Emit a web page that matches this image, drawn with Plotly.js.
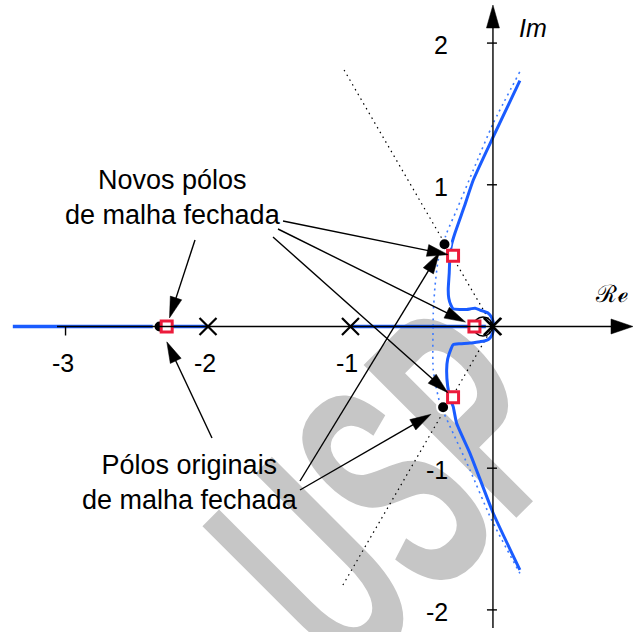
<!DOCTYPE html>
<html>
<head>
<meta charset="utf-8">
<script src="https://cdn.plot.ly/plotly-3.0.1.min.js"></script>
<style>
  html, body { margin: 0; padding: 0; background: #fff; }
  #plot { width: 634px; height: 632px; }
</style>
</head>
<body>
<div id="plot"></div>
<script>
// ---- Open-loop poles (x) and compensator zero (o) ----
const openLoopPolesRe = [0, -0.005, -1, -2];
const openLoopPolesIm = [0, 0, 0, 0];
const compZeroRe = [-0.07];
const compZeroIm = [0];

// ---- Closed-loop poles of the original system (filled dots) ----
const origPolesRe = [-0.34, -0.35, -2.34];
const origPolesIm = [0.58, -0.57, 0];

// ---- Closed-loop poles after compensation (squares) ----
const newPolesRe = [-0.28, -0.13, -0.28, -2.29];
const newPolesIm = [0.50, 0, -0.50, 0];

// ---- Compensated root locus: complex branches ----
const compUpperRe = [0.000, 0.002, -0.010, -0.035, -0.091, -0.125, -0.150, -0.185, -0.280, -0.295, -0.310, -0.314, -0.307, -0.302, -0.290, -0.267, -0.200, -0.138, 0.002, 0.189];
const compUpperIm = [0.000, 0.030, 0.065, 0.095, 0.116, 0.128, 0.126, 0.120, 0.125, 0.150, 0.200, 0.260, 0.375, 0.500, 0.580, 0.658, 0.850, 1.034, 1.339, 1.735];
const compLowerRe = [0.000, 0.002, -0.010, -0.030, -0.060, -0.091, -0.161, -0.230, -0.279, -0.295, -0.318, -0.325, -0.318, -0.300, -0.279, -0.255, -0.161, 0.002, 0.189];
const compLowerIm = [0.000, -0.030, -0.065, -0.090, -0.102, -0.107, -0.117, -0.122, -0.128, -0.160, -0.230, -0.307, -0.420, -0.510, -0.566, -0.683, -0.895, -1.318, -1.718];

// ---- Compensated root locus: real-axis pieces ----
const realLocusLeft = [-3.37, -2.0];
const realLocusMid = [-1.0, -0.05];

// ---- Uncompensated root locus (dotted) ----
const origUpperRe = [-0.420, -0.419, -0.407, -0.384, -0.325, -0.255, -0.138, 0.002, 0.189];
const origUpperIm = [0.000, 0.093, 0.281, 0.469, 0.658, 0.822, 1.104, 1.434, 1.798];
const origLowerRe = [-0.420, -0.419, -0.372, -0.279, -0.161, -0.009, 0.189];
const origLowerIm = [0.000, -0.307, -0.542, -0.754, -1.013, -1.366, -1.742];

// ---- Constant damping-ratio lines ----
const zeta = 0.5;
const zetaLineLength = [2.09, 2.12];   // upper, lower

// ---- Tick labels ----
const xTickVals = [-3, -2, -1];
const xTickText = ['-3', '-2', '-1'];
const yTickVals = [2, 1, -1, -2];
const yTickText = ['2', '1', '-1', '-2'];

// ================= drawing =================
const W = 634, H = 632;
const XR = [-3.46, 0.99], YR = [-2.156, 2.304];
const sx = W / (XR[1] - XR[0]), sy = H / (YR[1] - YR[0]);
const toX = px => XR[0] + px / sx;
const toY = py => YR[1] - py / sy;
const pxOf = (re, im) => [(re - XR[0]) * sx, (YR[1] - im) * sy];

const BLUE = '#1a5cff';
const BLUE_DOT = '#3d7bff';
const RED = '#ec1b3b';
const FONT = 'Liberation Sans';
const WM_GRAY = '#c6c6c6';

const shapes = [];
const annotations = [];

// watermark (moved under the traces after drawing)
annotations.push({
  text: 'USP', xref: 'x', yref: 'y', x: toX(390), y: toY(490),
  showarrow: false, textangle: -45,
  font: { family: FONT, size: 314, color: WM_GRAY, weight: 'bold' }
});

// arrow: shaft as a line, head as a filled path in pixel units at the tip
function arrowPx(tail, tip, len, half, width) {
  let dx = tip[0] - tail[0], dy = tip[1] - tail[1];
  const d = Math.hypot(dx, dy); dx /= d; dy /= d;
  const bx = tip[0] - dx * (len - 2), by = tip[1] - dy * (len - 2);
  shapes.push({ type: 'line', xref: 'x', yref: 'y',
    x0: toX(tail[0]), y0: toY(tail[1]), x1: toX(bx), y1: toY(by),
    line: { color: '#000', width: width } });
  const nx = -dy, ny = dx;
  const p1 = [-dx * len + nx * half, -dy * len + ny * half];
  const p2 = [-dx * len - nx * half, -dy * len - ny * half];
  const f = v => v.toFixed(2);
  shapes.push({ type: 'path', xref: 'x', yref: 'y', xsizemode: 'pixel', ysizemode: 'pixel',
    xanchor: toX(tip[0]), yanchor: toY(tip[1]),
    path: `M0,0L${f(p1[0])},${f(-p1[1])}L${f(p2[0])},${f(-p2[1])}Z`,
    fillcolor: '#000', line: { color: '#000', width: 0.5 } });
}
function arrowTo(tail, re, im, gap) {
  const c = pxOf(re, im);
  let dx = c[0] - tail[0], dy = c[1] - tail[1];
  const d = Math.hypot(dx, dy);
  arrowPx(tail, [c[0] - dx / d * gap, c[1] - dy / d * gap], 21, 6, 1.4);
}

// axes with arrow heads
arrowPx([57, pxOf(0, 0)[1]], [633, pxOf(0, 0)[1]], 22, 7.5, 1.4);
arrowPx([pxOf(0, 0)[0], 628], [pxOf(0, 0)[0], 5], 23, 6.5, 1.4);

// tick marks
xTickVals.forEach(v => {
  if (openLoopPolesRe.some(p => Math.abs(p - v) < 0.05)) return;
  shapes.push({ type: 'line', xref: 'x', yref: 'y', ysizemode: 'pixel', yanchor: 0,
    x0: v, x1: v, y0: 0, y1: -9, line: { color: '#000', width: 1.4 } });
});
yTickVals.forEach(v => {
  shapes.push({ type: 'line', xref: 'x', yref: 'y', xsizemode: 'pixel', xanchor: 0,
    x0: -6, x1: 4, y0: v, y1: v, line: { color: '#000', width: 1.4 } });
});

// tick labels
xTickVals.forEach((v, i) => annotations.push({
  text: xTickText[i], x: v, y: 0, xref: 'x', yref: 'y', showarrow: false,
  xanchor: 'center', yanchor: 'middle', xshift: -3, yshift: -37,
  font: { family: FONT, size: 25, color: '#000' }
}));
yTickVals.forEach((v, i) => annotations.push({
  text: yTickText[i], x: 0, y: v, xref: 'x', yref: 'y', showarrow: false,
  xanchor: 'right', yanchor: 'middle', xshift: -43, yshift: -2,
  font: { family: FONT, size: 25, color: '#000' }
}));

// axis names
annotations.push({ text: '<i>Im</i>', x: toX(533), y: toY(28), xref: 'x', yref: 'y', showarrow: false,
  font: { family: FONT, size: 25, color: '#000' } });
annotations.push({ text: 'ℛℯ', x: toX(611), y: toY(294), xref: 'x', yref: 'y', showarrow: false,
  font: { family: 'serif', size: 24, color: '#000' } });

// callout texts
annotations.push({ text: 'Novos pólos<br>de malha fechada', x: toX(173), y: toY(197), xref: 'x', yref: 'y',
  showarrow: false, align: 'center', font: { family: FONT, size: 27, color: '#000' } });
annotations.push({ text: 'Pólos originais<br>de malha fechada', x: toX(190), y: toY(482), xref: 'x', yref: 'y',
  showarrow: false, align: 'center', font: { family: FONT, size: 27, color: '#000' } });

// callout arrows -> new poles
arrowTo([283, 221], newPolesRe[0], newPolesIm[0], 5);
arrowTo([278, 229], newPolesRe[1], newPolesIm[1], 10);
arrowTo([273, 237], newPolesRe[2], newPolesIm[2], 7);
arrowTo([195, 240], newPolesRe[3], newPolesIm[3], 9);
// callout arrows -> original poles
arrowTo([212, 438], origPolesRe[2], origPolesIm[2], 17);
arrowTo([300, 481], origPolesRe[0], origPolesIm[0], 10);
arrowTo([300, 490], origPolesRe[1], origPolesIm[1], 14);

// ---- traces ----
const traces = [];
// damping-ratio lines
const theta = Math.acos(zeta);
traces.push({ x: [-zetaLineLength[0] * Math.cos(theta), 0, -zetaLineLength[1] * Math.cos(theta)],
  y: [zetaLineLength[0] * Math.sin(theta), 0, -zetaLineLength[1] * Math.sin(theta)],
  mode: 'lines', line: { color: '#000', width: 1.2, dash: '1.5px,4px' } });
// uncompensated locus
traces.push({ x: origUpperRe, y: origUpperIm, mode: 'lines',
  line: { color: BLUE_DOT, width: 1.6, dash: '2px,4px', shape: 'spline', smoothing: 0.6 } });
traces.push({ x: origLowerRe, y: origLowerIm, mode: 'lines',
  line: { color: BLUE_DOT, width: 1.6, dash: '2px,4px', shape: 'spline', smoothing: 0.6 } });
// compensated locus
traces.push({ x: realLocusLeft, y: [0, 0], mode: 'lines', line: { color: BLUE, width: 3.5 } });
traces.push({ x: realLocusMid, y: [0, 0], mode: 'lines', line: { color: BLUE, width: 3.5 } });
traces.push({ x: compUpperRe, y: compUpperIm, mode: 'lines',
  line: { color: BLUE, width: 3, shape: 'spline', smoothing: 0.5 } });
traces.push({ x: compLowerRe, y: compLowerIm, mode: 'lines',
  line: { color: BLUE, width: 3, shape: 'spline', smoothing: 0.5 } });
// zero
traces.push({ x: compZeroRe, y: compZeroIm, mode: 'markers',
  marker: { symbol: 'circle-open', size: 19, color: '#000', line: { width: 1.6, color: '#000' } } });
// open-loop poles
traces.push({ x: openLoopPolesRe, y: openLoopPolesIm, mode: 'markers',
  marker: { symbol: 'x-thin', size: 17, line: { width: 2.2, color: '#000' } } });
// original closed-loop poles
traces.push({ x: origPolesRe, y: origPolesIm, mode: 'markers',
  marker: { symbol: 'circle', size: 12, color: '#000', line: { width: 2, color: '#fff' } } });
// new closed-loop poles
traces.push({ x: newPolesRe, y: newPolesIm, mode: 'markers',
  marker: { symbol: 'square', size: 11, color: '#fff', line: { width: 3, color: RED } } });

const layout = {
  width: W, height: H,
  margin: { l: 0, r: 0, t: 0, b: 0, pad: 0 },
  font: { family: FONT },
  paper_bgcolor: '#fff', plot_bgcolor: 'rgba(0,0,0,0)',
  showlegend: false, hovermode: false,
  xaxis: { range: XR, visible: false, fixedrange: true },
  yaxis: { range: YR, visible: false, fixedrange: true },
  shapes: shapes, annotations: annotations
};

Plotly.newPlot('plot', traces, layout, { displayModeBar: false, staticPlot: true }).then(gd => {
  // watermark: narrow letterforms, placed underneath the data layer
  const wm = gd.querySelector('.infolayer .annotation[data-index="0"]');
  const below = gd.querySelector('.main-svg .layer-below');
  if (wm) {
    const t = wm.querySelector('text');
    if (t) {
      t.style.transformBox = 'fill-box';
      t.style.transformOrigin = 'center';
      t.style.transform = 'scaleX(0.52)';
    }
    if (below) below.appendChild(wm);
  }
});
</script>
</body>
</html>
